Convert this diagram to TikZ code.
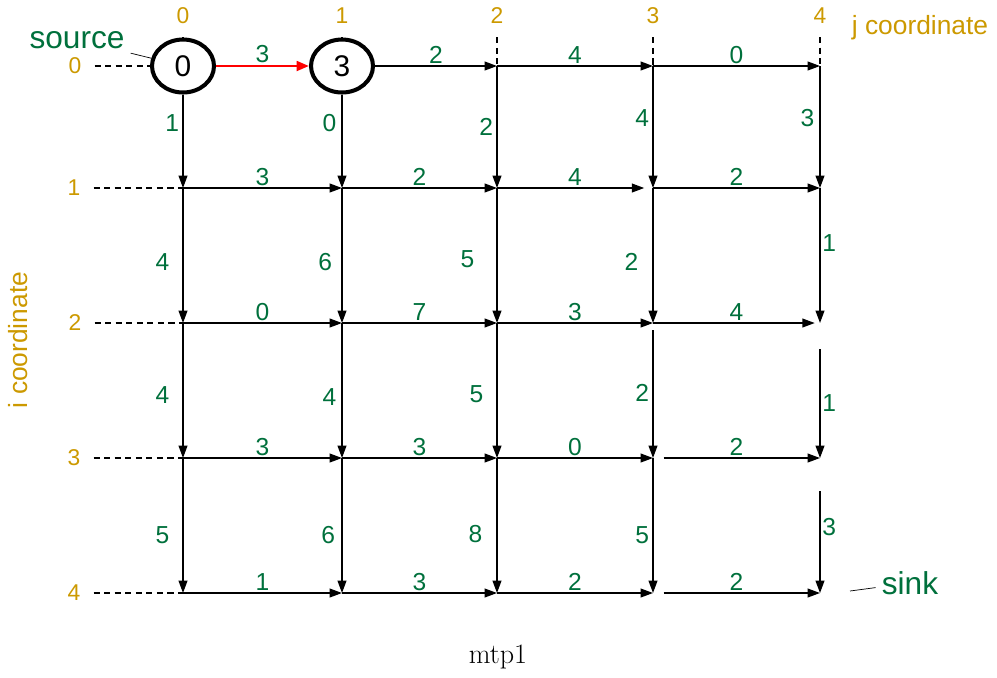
\documentclass[tikz,border=0pt]{standalone}
\usepackage{fontspec}
\setsansfont{Liberation Sans}
\usetikzlibrary{positioning,arrows.meta,shapes.geometric}
\definecolor{wgreen}{RGB}{0,112,60}
\definecolor{cgold}{RGB}{204,153,0}

\begin{document}
\begin{tikzpicture}[
  x=0.02cm, y=-0.02cm,
  % Node Styles
  cellnode/.style={ellipse, draw, line width=2.3pt, minimum width=1.24cm, minimum height=1.06cm, inner sep=0pt, font=\sffamily\fontsize{17}{17}\selectfont},
  wlabel/.style={text=wgreen, inner sep=1pt, font=\sffamily\fontsize{14}{14}\selectfont},
  coordlabel/.style={text=cgold, font=\sffamily\fontsize{13}{13}\selectfont},
  axislabel/.style={text=cgold, font=\sffamily\fontsize{15}{15}\selectfont},
  endlabel/.style={text=wgreen, font=\sffamily\fontsize{18}{18}\selectfont},
  % Arrow Styles
  gridarrow/.style={-{Triangle[length=7pt,width=5pt]}, line width=0.8pt},
  patharrow/.style={-{Triangle[length=7pt,width=5.5pt]}, red, line width=1.5pt},
  guideline/.style={dash pattern=on 3.5pt off 2.5pt, line width=0.7pt, shorten <=4pt},
]

\useasboundingbox (0,0) rectangle (997,677);

% Grid points
\foreach \j/\x in {0/183,1/342,2/497,3/653,4/820}
  \foreach \i/\y in {0/66,1/188,2/323,3/458,4/593}
    \coordinate (n\i\j) at (\x,\y);

\node[cellnode] (n00) at (183,66) {0};
\node[cellnode] (n01) at (342,66) {3};

% Coordinates
\node[coordlabel] (j0) at (183,16) {0};
\node[coordlabel] (j1) at (342,16) {1};
\node[coordlabel] (j2) at (497,16) {2};
\node[coordlabel] (j3) at (653,16) {3};
\node[coordlabel] (j4) at (820,16) {4};
\node[coordlabel] (i0) at (75,66) {0};
\node[coordlabel] (i1) at (74,188) {1};
\node[coordlabel] (i2) at (75,323) {2};
\node[coordlabel] (i3) at (74,458) {3};
\node[coordlabel] (i4) at (74,593) {4};
\foreach \k in {0,...,4} {
  \draw[guideline] (j\k) -- (n0\k);
  \draw[guideline] (i\k) -- (n\k0);
}
\node[axislabel] (jaxis) at (920,28) {j coordinate};
\node[axislabel, rotate=90] (iaxis) at (18,340) {i coordinate};

% Row 0
\draw[patharrow] (n00) -- node[wlabel, above] {3} (n01);
\draw[gridarrow] (n01) -- node[wlabel, above] {2} (n02);
\draw[gridarrow] (n02) -- node[wlabel, above] {4} (n03);
\draw[gridarrow] (n03) -- node[wlabel, above] {0} (n04);
\draw[gridarrow] (n00) -- node[wlabel, left=0.8pt, pos=0.3] {1} (n10);
\draw[gridarrow] (n01) -- node[wlabel, left=1.9pt, pos=0.3] {0} (n11);
\draw[gridarrow] (n02) -- node[wlabel, left=0.8pt] {2} (n12);
\draw[gridarrow] (n03) -- node[wlabel, left=0.8pt, pos=0.43] {4} (n13);
\draw[gridarrow] (n04) -- node[wlabel, left=1.9pt, pos=0.43] {3} (n14);

% Row 1
\draw[gridarrow] (n10) -- node[wlabel, above] {3} (n11);
\draw[gridarrow] (n11) -- node[wlabel, above] {2} (n12);
\draw[gridarrow, shorten >=5pt] (n12) -- node[wlabel, above] {4} (n13);
\draw[gridarrow] (n13) -- node[wlabel, above] {2} (n14);
\draw[gridarrow] (n10) -- node[wlabel, left=6.4pt, pos=0.55] {4} (n20);
\draw[gridarrow] (n11) -- node[wlabel, left=4.2pt, pos=0.55] {6} (n21);
\draw[gridarrow] (n12) -- node[wlabel, left=11.5pt, pos=0.53] {5} (n22);
\draw[gridarrow] (n13) -- node[wlabel, left=7pt, pos=0.55] {2} (n23);
\draw[gridarrow] (n14) -- node[wlabel, right=0pt, pos=0.41] {1} (n24);

% Row 2
\draw[gridarrow] (n20) -- node[wlabel, above] {0} (n21);
\draw[gridarrow] (n21) -- node[wlabel, above] {7} (n22);
\draw[gridarrow] (n22) -- node[wlabel, above] {3} (n23);
\draw[gridarrow, shorten >=3pt] (n23) -- node[wlabel, above] {4} (n24);
\draw[gridarrow] (n20) -- node[wlabel, left=6.4pt, pos=0.53] {4} (n30);
\draw[gridarrow] (n21) -- node[wlabel, left=1.9pt, pos=0.55] {4} (n31);
\draw[gridarrow] (n22) -- node[wlabel, left=6.4pt, pos=0.53] {5} (n32);
\draw[gridarrow, shorten <=4pt] (n23) -- node[wlabel, left=0.8pt, pos=0.52] {2} (n33);
\draw[gridarrow, shorten <=15pt] (n24) -- node[wlabel, right=0pt, pos=0.59] {1} (n34);

% Row 3
\draw[gridarrow] (n30) -- node[wlabel, above] {3} (n31);
\draw[gridarrow] (n31) -- node[wlabel, above] {3} (n32);
\draw[gridarrow] (n32) -- node[wlabel, above] {0} (n33);
\draw[gridarrow, shorten <=6pt] (n33) -- node[wlabel, above] {2} (n34);
\draw[gridarrow] (n30) -- node[wlabel, left=6.4pt, pos=0.57] {5} (n40);
\draw[gridarrow] (n31) -- node[wlabel, left=2.5pt, pos=0.57] {6} (n41);
\draw[gridarrow] (n32) -- node[wlabel, left=7pt, pos=0.56] {8} (n42);
\draw[gridarrow] (n33) -- node[wlabel, left=0.8pt, pos=0.57] {5} (n43);
\draw[gridarrow, shorten <=19pt] (n34) -- node[wlabel, right=0pt, pos=0.51] {3} (n44);

% Row 4
\draw[gridarrow] (n40) -- node[wlabel, above] {1} (n41);
\draw[gridarrow] (n41) -- node[wlabel, above] {3} (n42);
\draw[gridarrow] (n42) -- node[wlabel, above] {2} (n43);
\draw[gridarrow, shorten <=6pt] (n43) -- node[wlabel, above] {2} (n44);

% Source and sink
\node[endlabel] (source) at (77,40) {source};
\draw[thin] (source) -- (n00);
\node[endlabel] (sink) at (910,583) {sink};
\coordinate (sinkend) at (850,591);
\draw[thin] (sink) -- (sinkend);

\node[font=\fontsize{16}{16}\selectfont] (caption) at (498,657) {mtp1};

\end{tikzpicture}
\end{document}
